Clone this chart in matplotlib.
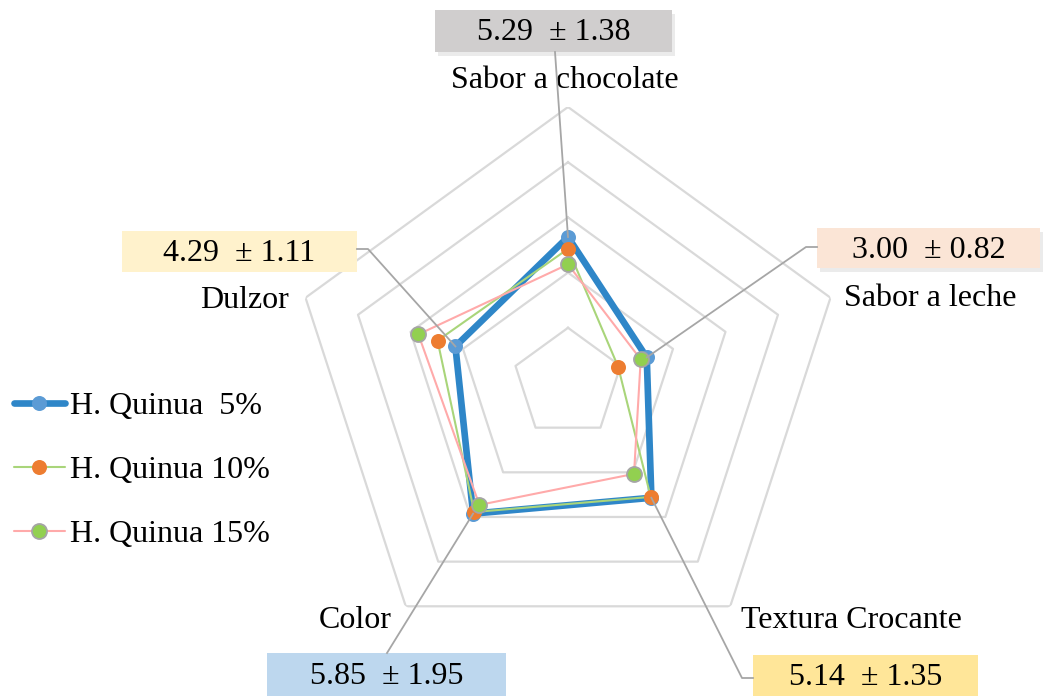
import numpy as np
import matplotlib
matplotlib.use('Agg')
from matplotlib import pyplot as plt
import matplotlib.lines as mlines
import matplotlib.patches as mpatches

plt.rcParams['font.family'] = ['Liberation Serif', 'DejaVu Serif']

categories = ['Sabor a chocolate', 'Sabor a leche', 'Textura Crocante', 'Color', 'Dulzor']
quinua_5 = [5.29, 3.00, 5.14, 5.85, 4.29]
quinua_10 = [4.86, 1.91, 5.10, 5.78, 4.97]
quinua_15 = [4.30, 2.77, 4.07, 5.46, 5.70]
std_5 = [1.38, 0.82, 1.35, 1.95, 1.11]
series_labels = ['H. Quinua  5%', 'H. Quinua 10%', 'H. Quinua 15%']
grid_levels = [2, 4, 6, 8, 10]

W, H = 1043, 696
fig = plt.figure(figsize=(W / 100, H / 100), dpi=100)


def fx(px):
    return px / W


def fy(py):
    return 1 - py / H


# polar axes centred at (568, 383) px with radius 276 px
cx, cy, R = 568, 383, 276
ax = fig.add_axes([fx(cx - R), fy(cy + R), 2 * R / W, 2 * R / H], projection='polar')
ax.set_theta_offset(np.pi / 2)
ax.set_theta_direction(-1)
ax.set_ylim(0, 10)
ax.set_xticks([])
ax.set_yticks([])
ax.grid(False)
ax.spines['polar'].set_visible(False)
ax.patch.set_alpha(0)

n = len(categories)
angles = np.linspace(0, 2 * np.pi, n, endpoint=False)
ang_c = np.append(angles, angles[0])

for lev in grid_levels:
    ax.plot(ang_c, [lev] * (n + 1), color='#d9d9d9', lw=1.6, zorder=1)

styles = [
    dict(color='#2e86c8', lw=4.8, mfc='#5b9bd5', mec='#5b9bd5', mew=0),
    dict(color='#a9d57a', lw=1.5, mfc='#ed7d31', mec='#ed7d31', mew=0),
    dict(color='#ffaaaa', lw=1.5, mfc='#92d050', mec='#a5a5a5', mew=1.3),
]
handles = []
for vals, st, lab in zip([quinua_5, quinua_10, quinua_15], styles, series_labels):
    v = np.append(vals, vals[0])
    ax.plot(ang_c, v, color=st['color'], lw=st['lw'], zorder=3,
            solid_joinstyle='miter')
    ax.plot(angles, vals, ls='none', marker='o', ms=10.8, mfc=st['mfc'],
            mec=st['mec'], mew=st['mew'], zorder=5)
    handles.append(mlines.Line2D([], [], color=st['color'], lw=st['lw'],
                                 marker='o', ms=10.8, mfc=st['mfc'],
                                 mec=st['mec'], mew=st['mew'], label=lab,
                                 solid_capstyle='round'))

fs = 23

# category labels
cat_pos = [(565, 80), (930, 299), (851, 620), (355, 621), (244, 300)]
for lab, (px, py) in zip(categories, cat_pos):
    fig.text(fx(px), fy(py), lab, ha='center', va='center', fontsize=fs)

# value boxes with leader lines to the 5% points
boxes = [
    (435, 10, 672, 52, '#d0cece'),
    (817, 228, 1040, 268, '#fbe5d6'),
    (753, 655, 978, 696, '#ffe699'),
    (267, 653, 506, 696, '#bdd7ee'),
    (122, 231, 357, 272, '#fff2cc'),
]
leader_start = [
    [(555, 52)],
    [(817, 247), (806, 247)],
    [(753, 678), (742, 678)],
    [(387, 653)],
    [(357, 249), (368, 249)],
]
inv = fig.transFigure.inverted()
for i, (x0, y0, x1, y1, col) in enumerate(boxes):
    if i in (0, 1):
        fig.patches.append(mpatches.Rectangle((fx(x0 + 3), fy(y1 + 4)), (x1 - x0) / W,
                                              (y1 - y0) / H, transform=fig.transFigure,
                                              facecolor='#000000', alpha=0.08, lw=0,
                                              zorder=0))
    fig.patches.append(mpatches.Rectangle((fx(x0), fy(y1)), (x1 - x0) / W, (y1 - y0) / H,
                                          transform=fig.transFigure, facecolor=col,
                                          lw=0, zorder=1))
    fig.text(fx((x0 + x1) / 2), fy((y0 + y1) / 2 + 2),
             '%.2f  \u00b1 %.2f' % (quinua_5[i], std_5[i]),
             ha='center', va='center', fontsize=fs, zorder=2)
    end = ax.transData.transform((angles[i], quinua_5[i]))
    ex, ey = inv.transform(end)
    xs = [fx(p[0]) for p in leader_start[i]] + [ex]
    ys = [fy(p[1]) for p in leader_start[i]] + [ey]
    fig.lines.append(mlines.Line2D(xs, ys, transform=fig.transFigure,
                                   color='#a6a6a6', lw=1.3, zorder=4))

fig.legend(handles=handles, loc='upper left', bbox_to_anchor=(fx(1), fy(379)),
           frameon=False, fontsize=fs, handlelength=1.6, handletextpad=0.17,
           labelspacing=1.08, borderaxespad=0)

fig.savefig('out.png', dpi=100)
